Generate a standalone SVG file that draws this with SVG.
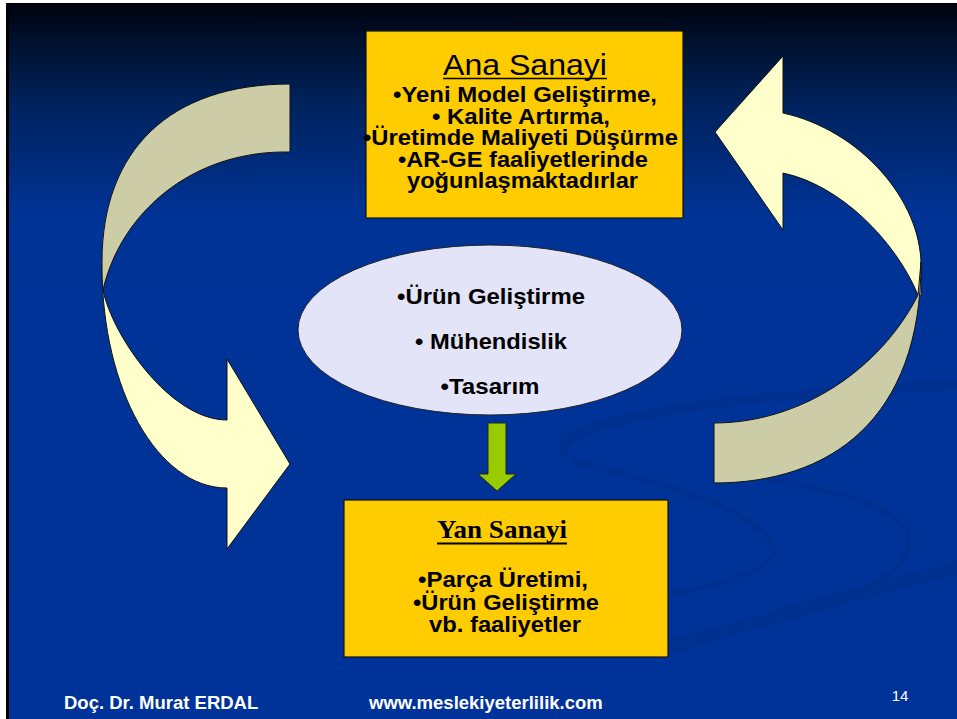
<svg xmlns="http://www.w3.org/2000/svg" width="957" height="719" viewBox="0 0 957 719">
<defs>
<linearGradient id="bg" x1="0" y1="0" x2="0" y2="719" gradientUnits="userSpaceOnUse">
<stop offset="0" stop-color="#00000c"/>
<stop offset="0.06" stop-color="#00112e"/>
<stop offset="0.15" stop-color="#00235f"/>
<stop offset="0.3" stop-color="#003396"/>
<stop offset="1" stop-color="#003399"/>
</linearGradient>
<style>
.box{fill:#FFCC00;stroke:#111;stroke-width:1.2}
.t{font-family:"Liberation Sans",Arial,sans-serif;font-weight:bold;font-size:21.5px;fill:#000;text-anchor:middle}
.dark{fill:#CCCCA6;stroke:#111;stroke-width:1}
.light{fill:#FFFFCC;stroke:#111;stroke-width:1}
.sw{fill:none;stroke:#002d88;stroke-linecap:round;opacity:0.55}
.foot{font-family:"Liberation Sans",Arial,sans-serif;font-weight:bold;fill:#fff}
</style>
</defs>
<rect x="0" y="0" width="957" height="719" fill="#fff"/>
<rect x="6" y="3" width="951" height="716" fill="#000"/>
<rect x="9" y="4" width="948" height="715" fill="url(#bg)"/>
<g id="background-swoosh">
<path class="sw" stroke-width="10" d="M563,452 C560,420 720,395 957,385"/>
<path class="sw" stroke-width="6" d="M575,462 C650,480 745,505 770,540 C790,570 720,588 630,600"/>
<path class="sw" stroke-width="6" d="M770,480 C860,495 925,515 905,555 C895,575 875,582 865,588"/>
<path class="sw" stroke-width="14" d="M660,650 C760,620 880,588 957,568"/>
</g>
<g id="connectors">
<g id="left-curved-arrow">
<path class="light" d="M102,266 C102,390 158,488 227,488 L227,549 L290,464 L227,359 L227,420 C170,420 112,335 103,290 Z"/>
<path class="dark" d="M290,84 C170,84 102,150 102,262 C102,272 102,282 103,290 C120,215 190,150 290,152 Z"/>
</g>
<g id="right-curved-arrow">
<path class="light" d="M783,113 C860,130 921,200 921,265 L921,296 L918,295 C895,240 840,185 783,173 L783,230 L715,132 L783,56 Z"/>
<path class="dark" d="M921,262 C921,420 830,483 714,483 L714,423 C800,423 880,370 918,295 Z"/>
</g>
<path id="down-arrow" d="M488,423 L506,423 L506,474 L516,474 L497,491 L478,474 L488,474 Z" fill="#99CC00" stroke="#222" stroke-width="1"/>
</g>
<g id="node-ana-sanayi">
<rect class="box" x="366" y="31" width="317" height="187"/>
<text x="525" y="75" font-family="Liberation Sans, Arial, sans-serif" font-size="30" fill="#000" text-anchor="middle" textLength="164" lengthAdjust="spacingAndGlyphs">Ana Sanayi</text>
<line x1="443" y1="78.5" x2="607" y2="78.5" stroke="#000" stroke-width="1.5"/>
<text class="t" x="525" y="102" textLength="264" lengthAdjust="spacingAndGlyphs">•Yeni Model Geliştirme,</text>
<text class="t" x="521" y="123.5" textLength="178" lengthAdjust="spacingAndGlyphs">• Kalite Artırma,</text>
<text class="t" x="520.5" y="145" textLength="315" lengthAdjust="spacingAndGlyphs">•Üretimde Maliyeti Düşürme</text>
<text class="t" x="523" y="166.5" textLength="250" lengthAdjust="spacingAndGlyphs">•AR-GE faaliyetlerinde</text>
<text class="t" x="522.5" y="188" textLength="231" lengthAdjust="spacingAndGlyphs">yoğunlaşmaktadırlar</text>
</g>
<g id="node-center">
<ellipse cx="490" cy="330" rx="192" ry="85" fill="#E4E4F8" stroke="#222" stroke-width="1"/>
<text class="t" x="491" y="304" textLength="188" lengthAdjust="spacingAndGlyphs">•Ürün Geliştirme</text>
<text class="t" x="491" y="349" textLength="152" lengthAdjust="spacingAndGlyphs">• Mühendislik</text>
<text class="t" x="490" y="394" textLength="99" lengthAdjust="spacingAndGlyphs">•Tasarım</text>
</g>
<g id="node-yan-sanayi">
<rect class="box" x="344" y="500" width="324" height="157"/>
<text x="502" y="538" font-family="Liberation Serif, 'Times New Roman', serif" font-weight="bold" font-size="26" fill="#000" text-anchor="middle" textLength="130" lengthAdjust="spacingAndGlyphs">Yan Sanayi</text>
<line x1="437" y1="543.5" x2="567" y2="543.5" stroke="#000" stroke-width="2"/>
<text class="t" x="503" y="587" textLength="170" lengthAdjust="spacingAndGlyphs">•Parça Üretimi,</text>
<text class="t" x="506" y="609.5" textLength="186" lengthAdjust="spacingAndGlyphs">•Ürün Geliştirme</text>
<text class="t" x="505" y="632" textLength="152" lengthAdjust="spacingAndGlyphs">vb. faaliyetler</text>
</g>
<g id="footer">
<text class="foot" font-size="18.5" x="64" y="709">Doç. Dr. Murat ERDAL</text>
<text class="foot" font-size="18.5" x="369" y="709">www.meslekiyeterlilik.com</text>
<text x="900" y="701" font-family="Liberation Sans, Arial, sans-serif" font-size="15" fill="#fff" text-anchor="middle">14</text>
</g>
</svg>
